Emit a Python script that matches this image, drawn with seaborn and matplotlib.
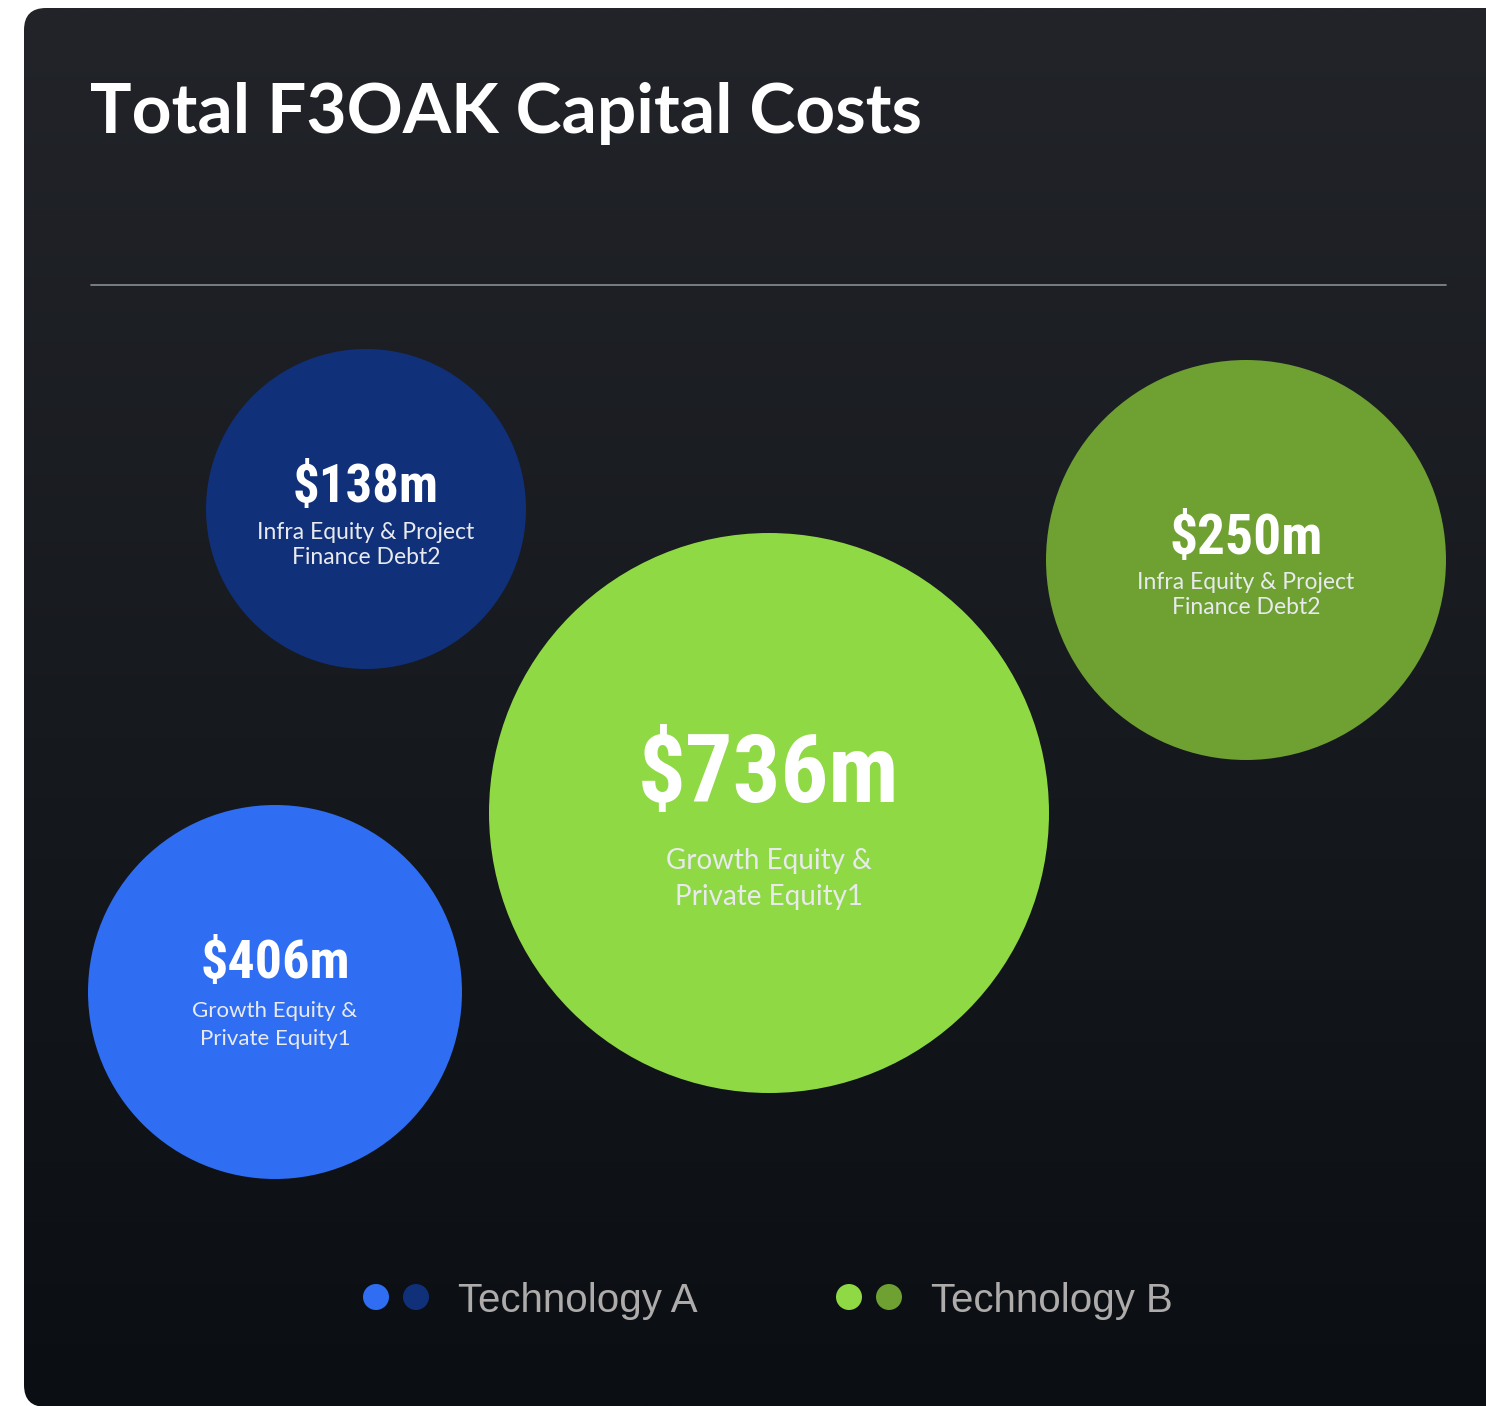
import numpy as np
import pandas as pd
import matplotlib.pyplot as plt
from matplotlib.patches import FancyBboxPatch
import seaborn as sns

# chart content
title = 'Total F3OAK Capital Costs'
amounts = ['$138m', '$736m', '$250m', '$406m']
descriptions = ['Infra Equity & Project\nFinance Debt2', 'Growth Equity &\nPrivate Equity1',
                'Infra Equity & Project\nFinance Debt2', 'Growth Equity &\nPrivate Equity1']
technology = ['Technology A', 'Technology B', 'Technology B', 'Technology A']
bubble_colors = ['#10307A', '#8FD944', '#6EA032', '#2F6EF2']
legend_labels = ['Technology A', 'Technology B']
legend_colors = [['#2F6EF2', '#10307A'], ['#8FD944', '#6EA032']]

# layout in pixels (card coordinates)
W, H, DPI = 1486, 1406, 100
centers_x = [366, 769, 1246, 275]
centers_y = [509, 813, 560, 992]
radii = [160, 280, 200, 187]
value_dy = [-21, -37, -21, -29]
value_fs = [38, 68, 40, 39]
desc_dy = [36, 66, 35, 33]
desc_fs = [16.5, 20, 16.5, 16]
desc_ls = [1.25, 1.45, 1.22, 1.45]

sns.set_theme(style='white')
plt.rcParams['font.family'] = ['Lato', 'DejaVu Sans']
value_font = ['Roboto Condensed', 'DejaVu Sans']

fig = plt.figure(figsize=(W / DPI, H / DPI), dpi=DPI)
fig.patch.set_facecolor('white')
ax = fig.add_axes([0, 0, 1, 1])

# card with vertical gradient
card = FancyBboxPatch((24, 8), 1510, 1399, boxstyle='round,pad=0,rounding_size=22',
                      facecolor='none', edgecolor='none', transform=ax.transData)
ax.add_patch(card)
top = np.array([0x22, 0x24, 0x29]) / 255
bot = np.array([0x0B, 0x0F, 0x13]) / 255
t = np.linspace(0, 1, 256)[:, None, None]
grad = top * (1 - t) + bot * t
img = ax.imshow(grad, extent=(24, 1534, 1407, 8), aspect='auto', zorder=0, interpolation='bilinear')
img.set_clip_path(card)

ax.text(90, 133, title, color='white', fontsize=50, fontweight='bold', ha='left', va='baseline')
ax.plot([91, 1446], [285, 285], color='#8a8d92', lw=1.2, zorder=1)

# bubbles
df = pd.DataFrame({'x': centers_x, 'y': centers_y, 'amount': amounts,
                   'size': [(2 * r * 72 / DPI) ** 2 for r in radii]})
sns.scatterplot(data=df, x='x', y='y', hue='amount', palette=dict(zip(amounts, bubble_colors)),
                size='amount', sizes=dict(zip(amounts, df['size'])), linewidth=0,
                legend=False, ax=ax, zorder=2)

for i in range(len(amounts)):
    ax.text(centers_x[i], centers_y[i] + value_dy[i], amounts[i], color='white',
            fontsize=value_fs[i], fontweight='bold', family=value_font, fontstretch='condensed',
            ha='center', va='center', zorder=3)
    ax.text(centers_x[i], centers_y[i] + desc_dy[i], descriptions[i], color='#E8EAEE',
            fontsize=desc_fs[i], ha='center', va='center', linespacing=desc_ls[i], zorder=3)

# legend
leg_x = [376, 849]
for j, lab in enumerate(legend_labels):
    ld = pd.DataFrame({'x': [leg_x[j], leg_x[j] + 40], 'y': [1297, 1297], 'c': legend_colors[j]})
    sns.scatterplot(data=ld, x='x', y='y', hue='c', palette=dict(zip(ld['c'], ld['c'])),
                    s=(26 * 72 / DPI) ** 2, linewidth=0, legend=False, ax=ax, zorder=3)
    ax.text(leg_x[j] + 82, 1312, lab, color='#AEABAB', fontsize=29,
            family=['Liberation Sans', 'DejaVu Sans'], ha='left', va='baseline', zorder=3)

ax.set_xlim(0, W)
ax.set_ylim(H, 0)
ax.axis('off')

fig.savefig('out.png', dpi=DPI, facecolor='white')
